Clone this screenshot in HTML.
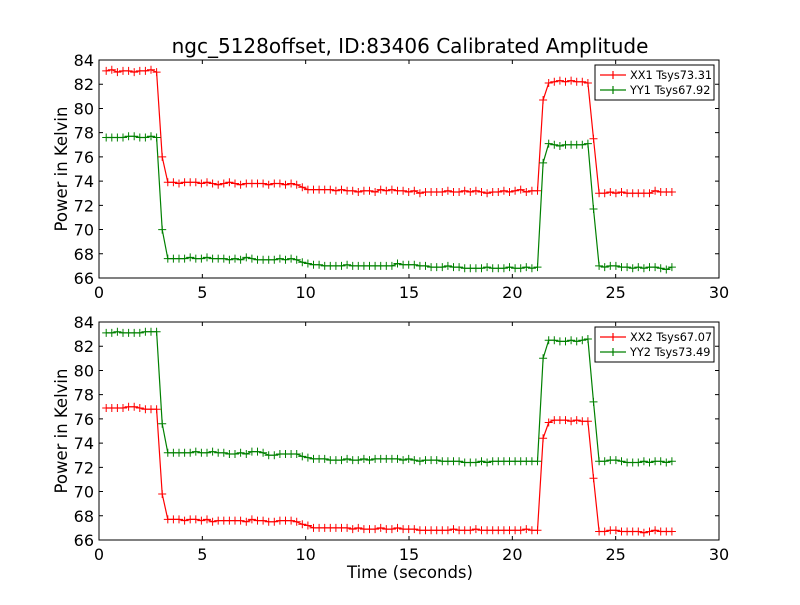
<!DOCTYPE html>
<html><head><meta charset="utf-8"><style>
body{margin:0;background:#fff}
svg text{font-family:"DejaVu Sans","Liberation Sans",sans-serif}
</style></head><body>
<svg id="chart" width="800" height="600" xmlns="http://www.w3.org/2000/svg">
<rect width="800" height="600" fill="#fff"/>
<text x="410" y="53" font-size="20" text-anchor="middle">ngc_5128offset, ID:83406 Calibrated Amplitude</text>
<text x="410" y="578" font-size="16.5" text-anchor="middle">Time (seconds)</text>
</svg>
<script>
const xTicks=[0,5,10,15,20,25,30];
const yTicks=[66,68,70,72,74,76,78,80,82,84];
const t0=0.35, dt=0.271, nPts=102;
const xx1=[83.1,83.2,83.0,83.1,83.1,83.0,83.1,83.1,83.2,83.0,76.0,
73.9,73.9,73.8,73.9,73.9,73.9,73.8,73.9,73.8,73.7,73.8,73.9,73.8,73.7,73.8,73.8,73.8,73.8,73.7,73.8,73.8,73.7,73.8,73.7,
73.5,73.3,73.3,73.3,73.3,73.3,73.2,73.3,73.2,73.2,73.1,73.2,73.2,73.1,73.3,73.2,73.3,73.2,73.2,73.1,73.2,73.0,73.1,73.1,73.1,73.1,73.2,73.1,73.1,73.2,73.1,73.2,73.1,73.0,73.1,73.1,73.2,73.1,73.2,73.3,73.1,73.2,73.2,
80.7,82.1,82.2,82.3,82.2,82.3,82.2,82.2,82.1,77.5,
73.0,73.0,73.1,73.0,73.1,73.0,73.0,73.0,73.0,73.0,73.2,73.1,73.1,73.1];
const yy1=[77.6,77.6,77.6,77.6,77.7,77.7,77.6,77.6,77.7,77.6,70.0,
67.6,67.6,67.6,67.6,67.7,67.6,67.6,67.7,67.6,67.6,67.6,67.5,67.6,67.5,67.7,67.6,67.5,67.5,67.5,67.5,67.6,67.5,67.6,67.5,
67.3,67.2,67.1,67.1,67.0,67.0,67.0,67.0,67.1,67.0,67.0,67.0,67.0,67.0,67.0,67.0,67.0,67.2,67.1,67.1,67.1,67.0,67.0,66.9,66.9,66.9,67.0,66.9,66.9,66.8,66.8,66.8,66.8,66.9,66.8,66.8,66.8,66.9,66.8,66.8,66.9,66.8,66.9,
75.5,77.1,77.0,76.9,77.0,77.0,77.0,77.0,77.1,71.7,
67.0,66.9,67.0,67.0,66.9,66.9,66.8,66.9,66.8,66.9,66.9,66.8,66.7,66.9];
const xx2=[76.9,76.9,76.9,76.9,77.0,77.0,76.9,76.8,76.8,76.8,69.8,
67.7,67.7,67.7,67.6,67.7,67.7,67.6,67.7,67.5,67.6,67.6,67.6,67.6,67.6,67.5,67.7,67.6,67.6,67.5,67.5,67.6,67.6,67.6,67.5,
67.3,67.2,67.0,67.0,67.0,67.0,67.0,67.0,67.0,66.9,67.0,66.9,66.9,66.9,67.0,66.9,66.9,67.0,66.9,66.9,66.9,66.8,66.8,66.8,66.8,66.8,66.8,66.9,66.8,66.8,66.8,66.9,66.8,66.8,66.8,66.8,66.8,66.8,66.8,66.8,66.9,66.8,66.8,
74.4,75.7,75.9,75.9,75.9,75.8,75.9,75.8,75.8,71.1,
66.7,66.7,66.8,66.8,66.7,66.7,66.7,66.7,66.6,66.7,66.8,66.7,66.7,66.7];
const yy2=[83.1,83.1,83.2,83.1,83.1,83.1,83.1,83.2,83.2,83.2,75.6,
73.2,73.2,73.2,73.2,73.2,73.3,73.2,73.2,73.3,73.2,73.2,73.1,73.1,73.2,73.1,73.3,73.3,73.2,73.0,73.0,73.1,73.1,73.1,73.1,
72.9,72.8,72.7,72.7,72.7,72.6,72.6,72.6,72.7,72.6,72.6,72.7,72.6,72.7,72.7,72.7,72.7,72.7,72.6,72.7,72.6,72.5,72.6,72.6,72.6,72.5,72.5,72.5,72.5,72.4,72.4,72.4,72.5,72.4,72.5,72.5,72.5,72.5,72.5,72.5,72.5,72.5,72.5,
81.0,82.5,82.5,82.4,82.4,82.5,82.4,82.5,82.6,77.4,
72.5,72.5,72.6,72.6,72.5,72.4,72.4,72.4,72.5,72.4,72.5,72.5,72.4,72.5];
const times=[];for(let i=0;i<nPts;i++)times.push(+(t0+i*dt).toFixed(3));

const svg=document.getElementById('chart');
const NS='http://www.w3.org/2000/svg';
function mk(tag,attrs,parent){const e=document.createElementNS(NS,tag);for(const k in attrs)e.setAttribute(k,attrs[k]);(parent||svg).appendChild(e);return e;}
const L=99,R=719;
function sx(v){return L+(v-0)/(30-0)*(R-L);}
function panel(top,bottom,series,name){
  const g=mk('g',{});
  
  
  const sy=v=>bottom-(v-66)/(84-66)*(bottom-top);
  series.forEach(s=>{
    const sg=mk('g',{},g);
    
    
    let d='';
    s.vals.forEach((v,i)=>{d+=(i?'L':'M')+sx(times[i]).toFixed(1)+' '+sy(v).toFixed(1);});
    mk('path',{d:d,fill:'none',stroke:s.color,'stroke-width':1.2},sg);
    let md='';
    s.vals.forEach((v,i)=>{const x=sx(times[i]),y=sy(v);md+=`M${(x-4).toFixed(1)} ${y.toFixed(1)}h8M${x.toFixed(1)} ${(y-4).toFixed(1)}v8`;});
    mk('path',{d:md,fill:'none',stroke:s.color,'stroke-width':1},sg);
  });
  mk('rect',{x:L,y:top,width:R-L,height:bottom-top,fill:'none',stroke:'#000','stroke-width':1},g);
  xTicks.forEach(v=>{const x=sx(v);
    mk('path',{d:`M${x} ${bottom}v-4M${x} ${top}v4`,stroke:'#000'},g);
    const t=mk('text',{x:x,y:bottom+20,'font-size':16,'text-anchor':'middle'},g);t.textContent=v;
    
    
  });
  yTicks.forEach(v=>{const y=sy(v);
    mk('path',{d:`M${L} ${y}h4M${R} ${y}h-4`,stroke:'#000'},g);
    const t=mk('text',{x:L-5,y:y+6,'font-size':16,'text-anchor':'end'},g);t.textContent=v;
    
    
  });
  const yl=mk('text',{x:0,y:0,'font-size':16.5,'text-anchor':'middle',transform:`translate(67 ${(top+bottom)/2}) rotate(-90)`},g);
  yl.textContent='Power in Kelvin';
  
  
  const lg=mk('g',{},g);
  
  
  mk('rect',{x:595,y:top+5,width:119,height:35,fill:'#fff',stroke:'#000','stroke-width':1},lg);
  series.forEach((s,k)=>{const y=top+15+k*15;
    mk('path',{d:`M600 ${y}h26M613 ${y-4}v8`,stroke:s.color,'stroke-width':1.2},lg);
    const t=mk('text',{x:630,y:y+4,'font-size':11.3},lg);t.textContent=s.label;
    
    
  });
}
panel(60,278,[{name:'xx1-series',label:'XX1 Tsys73.31',color:'#ff0000',vals:xx1},{name:'yy1-series',label:'YY1 Tsys67.92',color:'#008000',vals:yy1}],'top-panel');
panel(322,540,[{name:'xx2-series',label:'XX2 Tsys67.07',color:'#ff0000',vals:xx2},{name:'yy2-series',label:'YY2 Tsys73.49',color:'#008000',vals:yy2}],'bottom-panel');
</script>
</body></html>
